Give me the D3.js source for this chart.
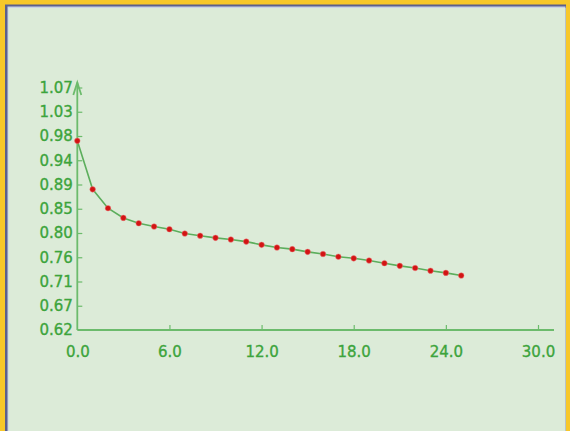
<!DOCTYPE html>
<html lang="en">
<head>
	<meta charset="UTF-8">
	<title>Decay curve</title>
	<script src="https://cdn.jsdelivr.net/npm/d3@7"></script>
	<style>
		html, body { margin: 0; padding: 0; background: #f7c72a; }
		svg { display: block; }
	</style>
</head>
<body>
	<svg id="viz"></svg>
	<script>
		// Data ---
		const xValues = d3.range(0, 26);
		const yValues = [0.971, 0.881, 0.846, 0.828, 0.818, 0.812, 0.807, 0.799, 0.795, 0.791,
			0.788, 0.784, 0.778, 0.773, 0.770, 0.765, 0.761, 0.756, 0.753, 0.749,
			0.744, 0.739, 0.735, 0.730, 0.726, 0.721];
		const xTickValues = [6, 12, 18, 24, 30];
		const xTickLabels = ['0.0', '6.0', '12.0', '18.0', '24.0', '30.0'];
		const yTickValues = [0.665, 0.71, 0.755, 0.80, 0.845, 0.89, 0.935, 0.98, 1.025, 1.07];
		const yTickLabels = ['0.62', '0.67', '0.71', '0.76', '0.80', '0.85', '0.89', '0.94', '0.98', '1.03', '1.07'];

		// Dimensions ---
		const svgWidth = 570, svgHeight = 431;
		const plotLeft = 77.3, plotRight = 538, plotTop = 87.5, plotBottom = 330;

		const textColor = '#3ca43c';
		const axisColor = '#6cbb6c';
		const lineColor = '#5cae5c';
		const dotColor = '#d21414';

		const svg = d3.select('#viz')
			.attr('width', svgWidth)
			.attr('height', svgHeight);

		// Frame ---
		svg.append('rect')
			.attr('width', svgWidth).attr('height', svgHeight)
			.attr('fill', '#f7c72a');
		svg.append('rect')
			.attr('x', 5).attr('y', 4.5)
			.attr('width', 561).attr('height', 440)
			.attr('fill', '#5b5f8e');
		svg.append('rect')
			.attr('x', 7.5).attr('y', 6.5)
			.attr('width', 558).attr('height', 440)
			.attr('fill', '#c9d3e6');
		svg.append('rect')
			.attr('x', 8.5).attr('y', 8)
			.attr('width', 557).attr('height', 440)
			.attr('fill', '#dcebd8');

		// Scales ---
		const x = d3.scaleLinear().domain([0, 30]).range([plotLeft, plotRight]);
		const y = d3.scaleLinear().domain([0.62, 1.07]).range([plotBottom, plotTop]);

		// Axes ---
		const xAxis = svg.append('g')
			.attr('transform', `translate(0,${plotBottom})`)
			.call(d3.axisBottom(x)
				.tickValues([0, ...xTickValues])
				.tickSize(-5)
				.tickPadding(16)
				.tickFormat((d, i) => xTickLabels[i]));
		const yAxis = svg.append('g')
			.attr('transform', `translate(${plotLeft},0)`)
			.call(d3.axisLeft(y)
				.tickValues([0.62, ...yTickValues])
				.tickSize(-5)
				.tickPadding(4.5)
				.tickFormat((d, i) => yTickLabels[i]));

		[xAxis, yAxis].forEach(g => {
			g.select('.domain').remove();
			g.selectAll('line').attr('stroke', axisColor).attr('stroke-width', 1.2);
			g.selectAll('text')
				.attr('fill', textColor)
				.attr('stroke', textColor)
				.attr('stroke-width', 0.35)
				.style('font-family', 'DejaVu Sans, sans-serif')
				.style('font-size', '15px');
		});
		// no tick line at the origin
		xAxis.selectAll('.tick').filter(d => d === 0).select('line').remove();
		yAxis.selectAll('.tick').filter(d => d === 0.62).select('line').remove();

		// Axis lines with open arrow heads ---
		const axisG = svg.append('g')
			.attr('fill', 'none')
			.attr('stroke', axisColor)
			.attr('stroke-width', 1.8);
		axisG.append('path').attr('d', d3.line()([[plotLeft, plotBottom], [plotLeft, plotTop - 5]]));
		axisG.append('path').attr('d', d3.line()([[plotLeft - 4, plotTop + 7.5], [plotLeft, plotTop - 5], [plotLeft + 4, plotTop + 7.5]]));
		axisG.append('path').attr('d', d3.line()([[plotLeft, plotBottom], [plotRight + 16, plotBottom]]));

		// Line + points ---
		const pts = xValues.map((d, i) => [d, yValues[i]]);
		svg.append('path')
			.datum(pts)
			.attr('fill', 'none')
			.attr('stroke', lineColor)
			.attr('stroke-width', 1.6)
			.attr('d', d3.line()
				.x(d => x(d[0]))
				.y(d => y(d[1])));

		svg.selectAll('circle.dot')
			.data(pts)
			.join('circle')
			.attr('class', 'dot')
			.attr('cx', d => x(d[0]))
			.attr('cy', d => y(d[1]))
			.attr('r', 2.8)
			.attr('fill', dotColor)
			.attr('stroke', '#f08080')
			.attr('stroke-opacity', 0.6)
			.attr('stroke-width', 0.8);
	</script>
</body>
</html>
